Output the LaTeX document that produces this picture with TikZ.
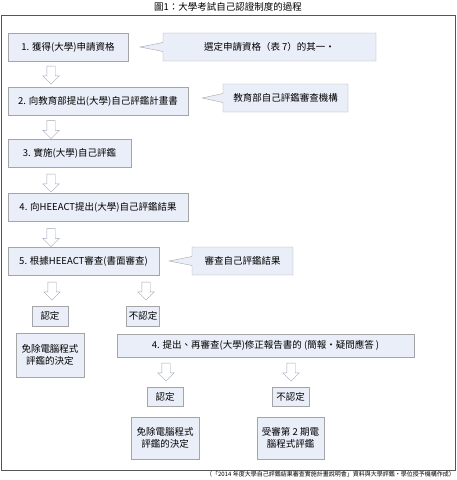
\documentclass[tikz,border=0pt]{standalone}
\usepackage{fontspec}
\setmainfont{Noto Sans CJK TC}
\usetikzlibrary{shapes,shapes.arrows,shapes.callouts}

\definecolor{boxfill}{RGB}{233,238,248}
\definecolor{boxline}{RGB}{165,165,165}
\definecolor{arrline}{RGB}{160,168,184}
\definecolor{frameline}{RGB}{85,85,85}

\begin{document}
\begin{tikzpicture}[x=1pt,y=-1pt]
 \tikzset{
stepbox/.style = {rectangle, draw=boxline, fill=boxfill, inner sep=0pt, minimum height=28pt, font=\fontsize{9.5}{12}\selectfont, align=center},
note/.style = {rectangle callout, draw=boxline, fill=boxfill, inner sep=0pt, minimum height=28pt, callout pointer width=9pt, font=\fontsize{9.5}{12}\selectfont},
downarrow/.style = {single arrow, draw=arrline, fill=white, shape border rotate=270, minimum height=18pt, minimum width=16pt, single arrow head extend=4pt, inner sep=4pt}}

\useasboundingbox (0,0) rectangle (457,480);
    \node (T) at (228,7) {\fontsize{9.5}{12}\selectfont 圖1：大學考試自己認證制度的過程};
    \draw [frameline, line width=1pt] (1,15) rectangle (455,470);

    \node [stepbox, minimum width=120pt] (S1) at (68,47) {1. 獲得(大學)申請資格};
    \node [note, minimum width=213pt, callout absolute pointer={([xshift=12pt]S1.east)}] (C1) at (269.5,47) {選定申請資格（表 7）的其一・};
    \node [downarrow] (A1) at (51,73) {};
    \node [stepbox, minimum width=180pt] (S2) at (98,101) {2. 向教育部提出(大學)自己評鑑計畫書};
    \node [note, minimum width=125pt, callout absolute pointer={([xshift=14pt,yshift=3pt]S2.east)}] (C2) at (285.5,98) {教育部自己評鑑審查機構};
    \node [downarrow] (A2) at (51,127.5) {};
    \node [stepbox, minimum width=123pt] (S3) at (69.5,153.5) {3. 實施(大學)自己評鑑};
    \node [downarrow] (A3) at (51,181) {};
    \node [stepbox, minimum width=180pt] (S4) at (98,207) {4. 向HEEACT提出(大學)自己評鑑結果};
    \node [downarrow] (A4) at (51,235.5) {};
    \node [stepbox, minimum width=151pt] (S5) at (83.5,261) {5. 根據HEEACT審查(書面審查)};
    \node [note, minimum width=101pt, callout absolute pointer={([xshift=10pt]S5.east)}] (C5) at (242.5,261) {審查自己評鑑結果};

    \node [downarrow] (A5) at (52,289) {};
    \node [downarrow] (A6) at (146,289) {};
    \node [stepbox, minimum width=36pt, minimum height=20pt] (OK1) at (50,316) {認定};
    \node [stepbox, minimum width=33pt, minimum height=20pt] (NG1) at (143,316) {不認定};
    \node [stepbox, minimum width=68pt, minimum height=44pt] (EX1) at (50,355) {免除電腦程式\\評鑑的決定};
    \node [stepbox, minimum width=297pt, minimum height=23pt] (S6) at (265.5,345.5) {4. 提出、再審查(大學)修正報告書的 (簡報・疑問應答 )};

    \node [downarrow] (A7) at (166,370) {};
    \node [downarrow] (A8) at (291,370) {};
    \node [stepbox, minimum width=36pt, minimum height=19pt] (OK2) at (165,396.5) {認定};
    \node [stepbox, minimum width=37pt, minimum height=19pt] (NG2) at (290.5,396.5) {不認定};
    \node [stepbox, minimum width=68pt, minimum height=42pt] (EX2) at (165,438) {免除電腦程式\\評鑑的決定};
    \node [stepbox, minimum width=67pt, minimum height=42pt] (RV2) at (290.5,438) {受審第 2 期電\\腦程式評鑑};

    \node [anchor=east, inner sep=0pt, font=\fontsize{6}{7}\selectfont] (SRC) at (455,474.5) {（「2014 年度大學自己評鑑結果審查實施計畫說明會」資料與大學評鑑・學位授予機構作成）};
  \end{tikzpicture}
\end{document}
